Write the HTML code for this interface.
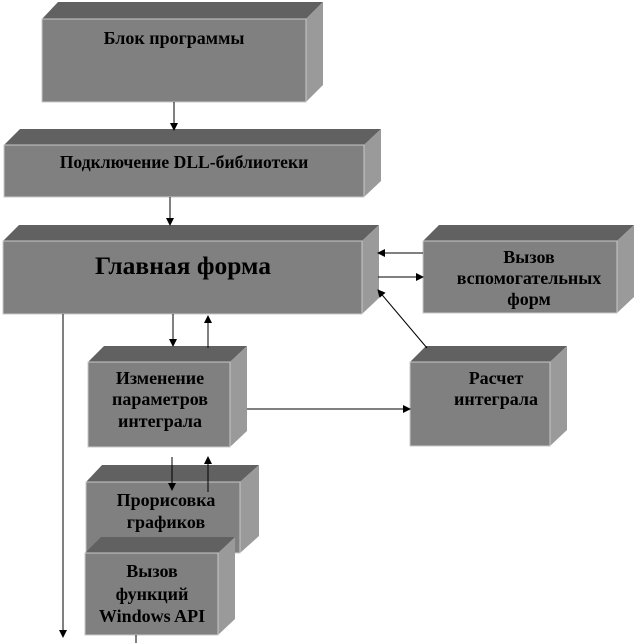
<!DOCTYPE html>
<html><head><meta charset="utf-8"><style>body{margin:0;background:#fff}svg{display:block}text{font-family:"Liberation Serif",serif;font-weight:bold;fill:#000;text-anchor:middle}</style></head><body>
<svg width="636" height="643" viewBox="0 0 636 643" xmlns="http://www.w3.org/2000/svg">
<defs><marker id="a" markerWidth="8" markerHeight="8" refX="7" refY="4" orient="auto" markerUnits="userSpaceOnUse"><path d="M0,0L8,4L0,8z" fill="#000"/></marker></defs>
<g>
<polygon points="42,19 58,2 323,2 306,19" fill="#616161"/><polygon points="306,19 323,2 323,85 306,102" fill="#9a9a9a"/><rect x="42" y="19" width="264" height="83" fill="#808080" stroke="#c8c8c8"/>
<polygon points="4,145 20,129 381,129 364,145" fill="#616161"/><polygon points="364,145 381,129 381,181 364,197" fill="#9a9a9a"/><rect x="4" y="145" width="360" height="52" fill="#808080" stroke="#c8c8c8"/>
<polygon points="3,241 19,225 379,225 362,241" fill="#616161"/><polygon points="362,241 379,225 379,298 362,314" fill="#9a9a9a"/><rect x="3" y="241" width="359" height="73" fill="#808080" stroke="#c8c8c8"/>
<polygon points="423,241 439,225 634,225 617,241" fill="#616161"/><polygon points="617,241 634,225 634,297 617,313" fill="#9a9a9a"/><rect x="423" y="241" width="194" height="72" fill="#808080" stroke="#c8c8c8"/>
<polygon points="88,362 104,346 247,346 230,362" fill="#616161"/><polygon points="230,362 247,346 247,431 230,447" fill="#9a9a9a"/><rect x="88" y="362" width="142" height="85" fill="#808080" stroke="#c8c8c8"/>
<polygon points="410,362 426,346 567,346 550,362" fill="#616161"/><polygon points="550,362 567,346 567,430 550,446" fill="#9a9a9a"/><rect x="410" y="362" width="140" height="84" fill="#808080" stroke="#c8c8c8"/>
<polygon points="86,482 102,465 259,465 240,482" fill="#616161"/><polygon points="240,482 259,465 259,536 240,553" fill="#9a9a9a"/><rect x="86" y="482" width="154" height="71" fill="#808080" stroke="#c8c8c8"/>
<polygon points="85,553 101,537 235,537 218,553" fill="#616161"/><polygon points="218,553 235,537 235,619 218,635" fill="#9a9a9a"/><rect x="85" y="553" width="133" height="82" fill="#808080" stroke="#c8c8c8"/>
</g>
<g font-size="18">
<text x="174" y="44">Блок программы</text>
<text x="184" y="168" font-size="17.6">Подключение DLL-библиотеки</text>
<text x="183" y="274" font-size="25.5">Главная форма</text>
<text x="529" y="263">Вызов</text><text x="529" y="284">вспомогательных</text><text x="529" y="305">форм</text>
<text x="160" y="384">Изменение</text><text x="160" y="405">параметров</text><text x="160" y="427">интеграла</text>
<text x="496" y="384">Расчет</text><text x="496" y="405">интеграла</text>
<text x="166" y="506">Прорисовка</text><text x="166" y="528">графиков</text>
<text x="152" y="577">Вызов</text><text x="152" y="600">функций</text><text x="152" y="622">Windows API</text>
</g>
<g stroke="#000" stroke-width="1" fill="none">
<line x1="174" y1="102" x2="174" y2="130" marker-end="url(#a)"/>
<line x1="170" y1="197" x2="170" y2="225" marker-end="url(#a)"/>
<line x1="423" y1="253" x2="378" y2="253" marker-end="url(#a)"/>
<line x1="378" y1="277" x2="423" y2="277" marker-end="url(#a)"/>
<line x1="427" y1="348" x2="378" y2="290" marker-end="url(#a)"/>
<line x1="173" y1="314" x2="173" y2="346" marker-end="url(#a)"/>
<line x1="208" y1="348" x2="208" y2="316" marker-end="url(#a)"/>
<line x1="247" y1="409" x2="410" y2="409" marker-end="url(#a)"/>
<line x1="172" y1="457" x2="172" y2="490" marker-end="url(#a)"/>
<line x1="208" y1="492" x2="208" y2="457" marker-end="url(#a)"/>
<line x1="63" y1="314" x2="63" y2="637" marker-end="url(#a)"/>
<line x1="136" y1="635" x2="136" y2="643"/>
</g>
</svg>
</body></html>
